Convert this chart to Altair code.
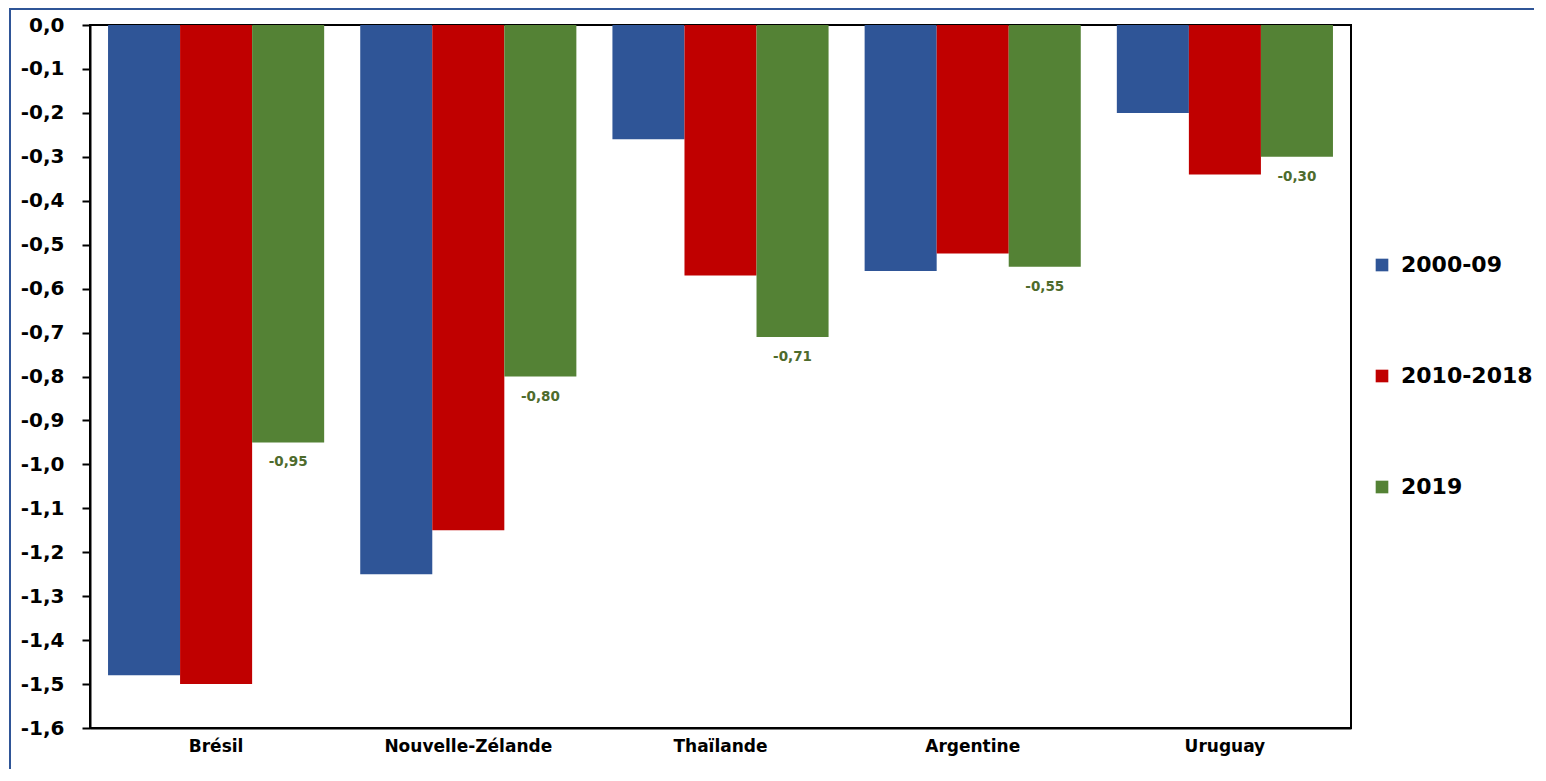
import altair as alt
import pandas as pd

countries = ["Brésil", "Nouvelle-Zélande", "Thaïlande", "Argentine", "Uruguay"]
series = ["2000-09", "2010-2018", "2019"]
v_2000_09 = [-1.48, -1.25, -0.26, -0.56, -0.20]
v_2010_18 = [-1.50, -1.15, -0.57, -0.52, -0.34]
v_2019 = [-0.95, -0.80, -0.71, -0.55, -0.30]
colors = ["#2F5597", "#C00000", "#548235"]
y_ticks = [round(-i / 10, 1) for i in range(0, 17)]

rows = []
for s, vals in zip(series, [v_2000_09, v_2010_18, v_2019]):
    for c, v in zip(countries, vals):
        rows.append({"pays": c, "serie": s, "val": v,
                     "lbl": f"{v:.2f}".replace(".", ",")})
df = pd.DataFrame(rows)

W, H = 1261, 703
PL, PT = 82, 17

x_enc = alt.X("pays:N", sort=countries, title=None,
              scale=alt.Scale(paddingInner=0.143, paddingOuter=0.0715),
              axis=alt.Axis(labelAngle=0, ticks=False, labelPadding=10,
                            labelFont="DejaVu Sans", labelFontWeight="bold",
                            labelFontSize=17, labelColor="black",
                            domainColor="black", domainWidth=2))
xo_enc = alt.XOffset("serie:N", sort=series,
                     scale=alt.Scale(paddingInner=0, paddingOuter=0))
y_enc = alt.Y("val:Q", title=None,
              scale=alt.Scale(domain=[-1.6, 0], nice=False, zero=False),
              axis=alt.Axis(values=y_ticks, grid=False, tickSize=8,
                            tickColor="black", tickWidth=2,
                            domainColor="black", domainWidth=2,
                            labelFont="DejaVu Sans", labelFontWeight="bold",
                            labelFontSize=20, labelColor="black",
                            labelPadding=18,
                            labelExpr="replace(replace(format(datum.value, '.1f'), '.', ','), '\u2212', '-')"))

bars = alt.Chart(df).mark_bar().encode(
    x=x_enc, xOffset=xo_enc, y=y_enc,
    color=alt.Color("serie:N", sort=series, title=None,
                    scale=alt.Scale(domain=series, range=colors),
                    legend=alt.Legend(orient="none", legendX=1281, legendY=229,
                                      symbolType="square", symbolSize=160,
                                      symbolStrokeWidth=0,
                                      labelFont="DejaVu Sans", labelFontWeight="bold",
                                      labelFontSize=22, labelColor="black",
                                      labelOffset=8, rowPadding=89, padding=0)),
)

texts = alt.Chart(df).transform_filter(alt.datum.serie == "2019").mark_text(
    font="DejaVu Sans", fontWeight="bold", fontSize=13.5, color="#4E6B2C",
    baseline="middle", dy=20,
).encode(x=alt.X("pays:N", sort=countries), xOffset=alt.XOffset("serie:N", sort=series),
         y="val:Q", text="lbl:N")

blank = alt.Data(values=[{"a": 1}])
frame_left = alt.Chart(blank).mark_rule(color="#2F5597", strokeWidth=2).encode(
    x=alt.value(-80), y=alt.value(-PT), y2=alt.value(781 - 16 - PT))
frame_top = alt.Chart(blank).mark_rule(color="#2F5597", strokeWidth=2).encode(
    x=alt.value(-80), x2=alt.value(1546 - 16 - PL), y=alt.value(-PT + 1))

chart = alt.layer(bars, texts, frame_left, frame_top).properties(
    width=W, height=H,
    autosize=alt.AutoSizeParams(type="none"),
    padding={"left": PL, "top": PT, "right": 1546 - 20 - PL - W, "bottom": 781 - 20 - PT - H},
).configure(background="white").configure_view(stroke="black", strokeWidth=2)

chart.save("out.html", embed_options={"renderer": "svg", "actions": False})
